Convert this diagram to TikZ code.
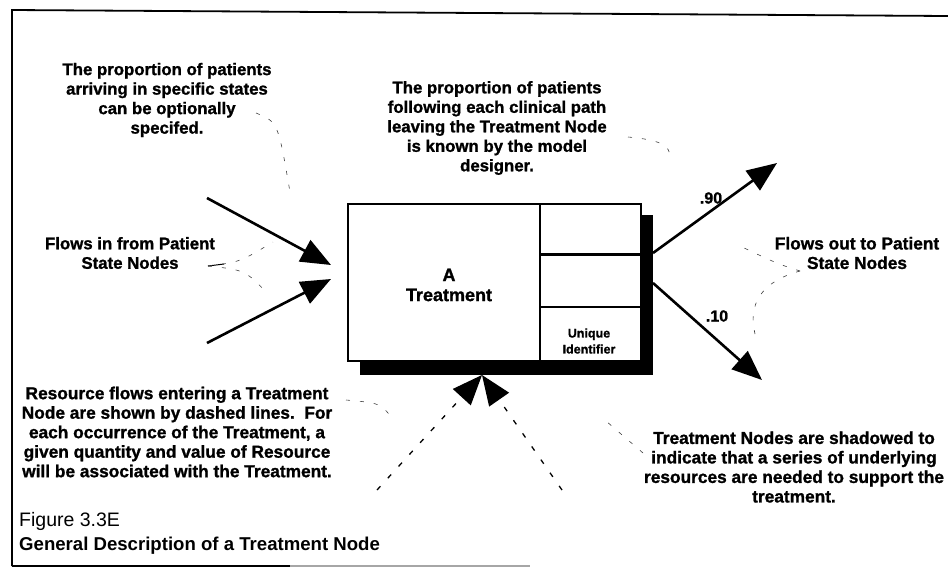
\documentclass[tikz,border=0pt]{standalone}
\usepackage{fontspec}
\setmainfont{Liberation Sans}
\newfontfamily\heavy{Liberation Sans Bold}[FakeBold=1.2]
\usetikzlibrary{arrows.meta}

\begin{document}
\begin{tikzpicture}[x=1pt,y=-1pt,
  note/.style={font=\fontsize{16.8}{19.5}\selectfont\heavy, align=center, inner sep=0pt},
  bignote/.style={note, font=\fontsize{17.3}{19.5}\selectfont\heavy},
  flow/.style={line width=2.6pt, -{Triangle[length=30pt,width=24pt]}},
  resflow/.style={line width=1.3pt, dash pattern=on 5pt off 11pt, -{Triangle[length=30pt,width=24pt]}},
  leader/.style={line width=0.6pt, black!75, dash pattern=on 4pt off 10pt},
  cellline/.style={line width=2pt},
]
\useasboundingbox (0,0) rectangle (948,574);

% outer frame (open on the right)
\draw[line width=1.8pt] (12,566) -- (12,10) -- (948,16);
\draw[line width=1.8pt] (12,566) -- (290,566);
\draw[line width=1.8pt, black!35] (290,566) -- (530,566);

% treatment node with its shadow
\node[fill=black, minimum width=293, minimum height=160, anchor=north west, inner sep=0pt] (shadow) at (360,215) {};
\node[draw, fill=white, line width=2pt, minimum width=293, minimum height=157, anchor=north west, inner sep=0pt] (tbox) at (347,203) {};
\coordinate (divtop) at (540,203);
\coordinate (divbot) at (540,360);
\draw[line width=2.4pt] (divtop) -- (divbot);
\draw[line width=3pt] (540,254) -- (tbox.east |- 0,254);
\draw[cellline] (540,307) -- (tbox.east |- 0,307);
\node[font=\fontsize{18}{20}\selectfont\heavy, align=center, inner sep=0pt] (tname) at (449,285) {A\\Treatment};
\node[font=\fontsize{12.5}{16}\selectfont\heavy, align=center, inner sep=0pt] (uid) at (589,341) {Unique\\Identifier};

% patient flows in
\coordinate (in1s) at (207,198);
\coordinate (in1e) at (331,265);
\coordinate (in2s) at (207,343);
\coordinate (in2e) at (331,279);
\draw[flow] (in1s) -- (in1e);
\draw[flow] (in2s) -- (in2e);

% patient flows out
\coordinate (out1s) at (653,253);
\coordinate (out1e) at (777,163);
\coordinate (out2s) at (653,283);
\coordinate (out2e) at (762,380);
\draw[flow] (out1s) -- (out1e);
\draw[flow] (out2s) -- (out2e);
\node[font=\fontsize{16}{18}\selectfont\heavy, inner sep=0pt] (p90) at (711,198) {.90};
\node[font=\fontsize{16}{18}\selectfont\heavy, inner sep=0pt] (p10) at (717,316) {.10};

% resource flows
\coordinate (res1s) at (377,490);
\coordinate (res2s) at (562,490);
\coordinate (restip) at (482,375);
\draw[resflow] (res1s) -- (restip);
\draw[resflow] (res2s) -- (restip);

% annotations
\node[note] (arrive) at (167,100) {The proportion of patients\\arriving in specific states\\can be optionally\\specifed.};
\node[note] (known) at (497,128) {The proportion of patients\\following each clinical path\\leaving the Treatment Node\\is known by the model\\designer.};
\node[note] (fin) at (130,253) {Flows in from Patient\\State Nodes};
\node[bignote] (fout) at (857,253) {Flows out to Patient\\State Nodes};
\node[bignote] (resnote) at (177,432) {Resource flows entering a Treatment\\Node are shown by dashed lines.\ \ For\\each occurrence of the Treatment, a\\given quantity and value of Resource\\will be associated with the Treatment.};
\node[bignote] (shadnote) at (794,467) {Treatment Nodes are shadowed to\\indicate that a series of underlying\\resources are needed to support the\\treatment.};

% caption
\node[font=\fontsize{19.5}{22}\selectfont, anchor=west, inner sep=0pt] (figno) at (19,521) {Figure 3.3E};
\node[font=\fontsize{18.6}{22}\selectfont\bfseries, anchor=west, inner sep=0pt] (figtitle) at (19,546) {General Description of a Treatment Node};

% leader lines from annotations
\coordinate (l1a) at (256,113);
\coordinate (l1b) at (290,192);
\draw[leader] (l1a) .. controls (278,122) .. (l1b);
\coordinate (l2a) at (208,266);
\coordinate (l2b) at (273,242);
\coordinate (l2c) at (268,294);
\draw[line width=1pt] (l2a) -- (224,264);
\draw[leader] (l2a) .. controls (240,262) .. (l2b);
\draw[leader] (l2a) .. controls (245,270) .. (l2c);
\coordinate (l3a) at (628,137);
\coordinate (l3b) at (670,157);
\draw[leader] (l3a) .. controls (662,140) and (670,146) .. (l3b);
\coordinate (l4a) at (800,271);
\coordinate (l4b) at (742,247);
\coordinate (l4c) at (755,334);
\draw[leader] (l4a) .. controls (778,264) .. (l4b);
\draw[leader] (l4a) .. controls (760,282) and (748,305) .. (l4c);
\coordinate (l5a) at (346,400);
\coordinate (l5b) at (393,419);
\draw[leader] (l5a) .. controls (380,403) .. (l5b);
\coordinate (l6a) at (643,453);
\coordinate (l6b) at (606,421);
\draw[leader] (l6a) -- (l6b);
\end{tikzpicture}
\end{document}
